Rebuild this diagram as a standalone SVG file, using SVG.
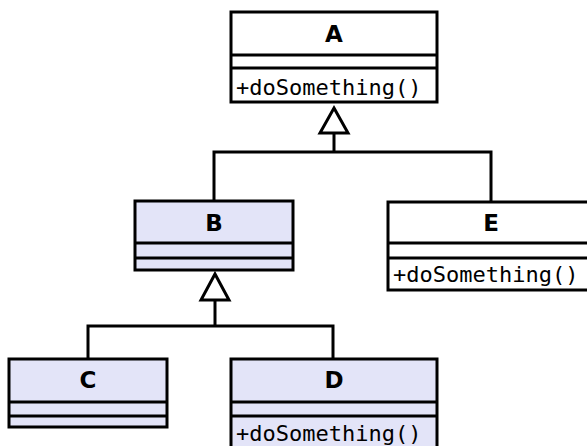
<svg xmlns="http://www.w3.org/2000/svg" width="587" height="446" viewBox="0 0 587 446">
  <style>
    .box { stroke: #000; stroke-width: 3; }
    .plain { fill: #fff; }
    .tint { fill: #e3e4f8; }
    .sep { stroke: #000; stroke-width: 3; fill: none; }
    .title { font-family: "DejaVu Sans", sans-serif; font-weight: bold; font-size: 23px; text-anchor: middle; }
    .op { font-family: "DejaVu Sans Mono", monospace; font-size: 22px; }
    .link { stroke: #000; stroke-width: 3; fill: none; }
    .head { stroke: #000; stroke-width: 3; fill: #fff; stroke-linejoin: miter; }
  </style>
  <rect width="587" height="446" fill="#fff"/>

  <g id="connectors">
    <polyline class="link" points="214,201 214,152 491,152 491,202"/>
    <line class="link" x1="334" y1="152" x2="334" y2="133"/>
    <polygon class="head" points="334,108 348,133 320,133"/>
    <polyline class="link" points="88,359 88,326 333,326 333,359"/>
    <line class="link" x1="215" y1="326" x2="215" y2="300"/>
    <polygon class="head" points="215,274 229,300 201,300"/>
  </g>

  <g id="A">
    <rect class="box plain" x="231" y="12" width="206" height="90"/>
    <line class="sep" x1="231" y1="55" x2="437" y2="55"/>
    <line class="sep" x1="231" y1="68" x2="437" y2="68"/>
    <text class="title" x="334" y="42">A</text>
    <text class="op" x="236" y="95">+doSomething()</text>
  </g>

  <g id="B">
    <rect class="box tint" x="135" y="201" width="158" height="69"/>
    <line class="sep" x1="135" y1="243" x2="293" y2="243"/>
    <line class="sep" x1="135" y1="258" x2="293" y2="258"/>
    <text class="title" x="214" y="231">B</text>
  </g>

  <g id="E">
    <rect class="box plain" x="388" y="202" width="206" height="88"/>
    <line class="sep" x1="388" y1="243" x2="594" y2="243"/>
    <line class="sep" x1="388" y1="258" x2="594" y2="258"/>
    <text class="title" x="491" y="231">E</text>
    <text class="op" x="393" y="282">+doSomething()</text>
  </g>

  <g id="C">
    <rect class="box tint" x="9" y="359" width="158" height="68"/>
    <line class="sep" x1="9" y1="402" x2="167" y2="402"/>
    <line class="sep" x1="9" y1="416" x2="167" y2="416"/>
    <text class="title" x="88" y="388">C</text>
  </g>

  <g id="D">
    <rect class="box tint" x="231" y="359" width="206" height="100"/>
    <line class="sep" x1="231" y1="402" x2="437" y2="402"/>
    <line class="sep" x1="231" y1="416" x2="437" y2="416"/>
    <text class="title" x="334" y="388">D</text>
    <text class="op" x="236" y="441">+doSomething()</text>
  </g>
</svg>
